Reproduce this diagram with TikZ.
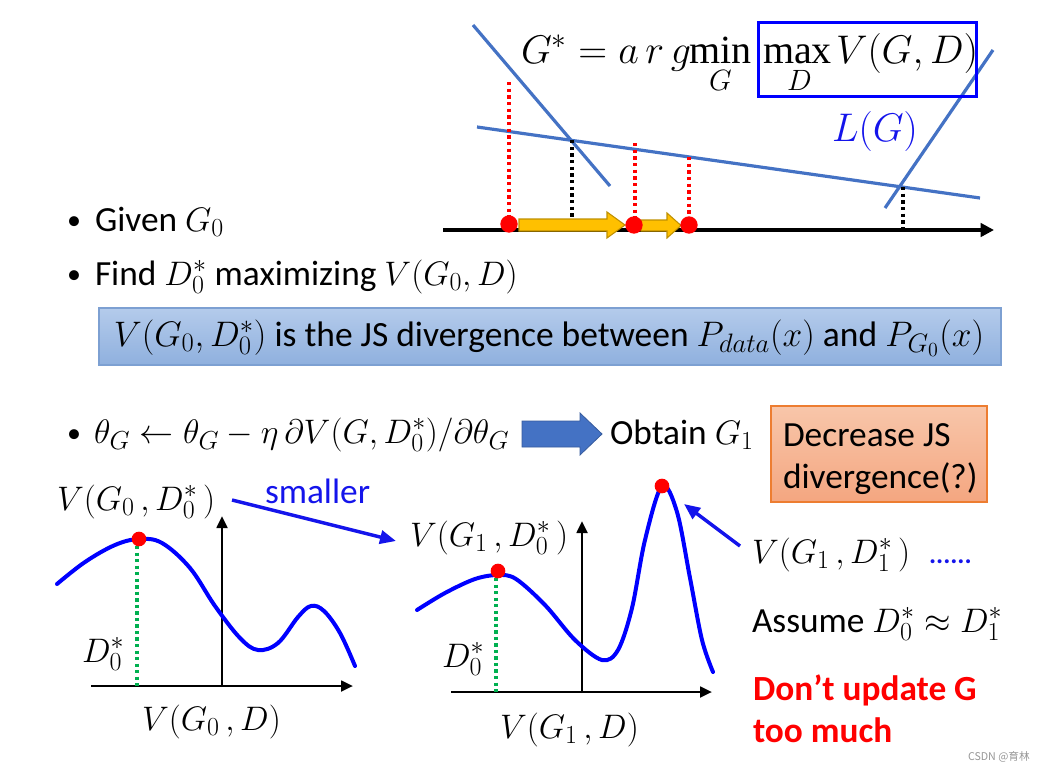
\RequirePackage{fix-cm}
\documentclass[tikz,border=0pt]{standalone}
\usepackage{fontspec}
\setmainfont{Carlito}
\newfontfamily\cjk{Noto Sans CJK SC}
\newfontfamily\opfont{Liberation Serif}
\DeclareMathSizes{26.5}{25.5}{19.5}{15}
\DeclareMathSizes{26.6}{26.6}{20}{15}
\DeclareMathSizes{30}{30}{22}{16}
\DeclareMathSizes{22}{22}{16}{12}
\usetikzlibrary{arrows.meta}
\definecolor{lineblue}{RGB}{68,114,196}
\definecolor{pureblue}{RGB}{0,0,255}
\definecolor{txtblue}{RGB}{20,20,235}
\definecolor{dotred}{RGB}{255,0,0}
\definecolor{goldfill}{RGB}{255,192,0}
\definecolor{goldedge}{RGB}{191,144,0}
\definecolor{boxtop}{RGB}{180,203,235}
\definecolor{boxbot}{RGB}{143,176,222}
\definecolor{boxedge}{RGB}{125,160,210}
\definecolor{saltop}{RGB}{248,198,170}
\definecolor{salbot}{RGB}{244,166,128}
\definecolor{saledge}{RGB}{237,125,49}
\definecolor{dotgreen}{RGB}{0,176,80}
\definecolor{wmgrey}{RGB}{150,150,150}
\begin{document}
\begin{tikzpicture}[x=0.75pt,y=-0.75pt,
  txt/.style={inner sep=0pt,outer sep=0pt,anchor=base west,font=\fontsize{26.5}{30}\selectfont},
  boxtxt/.style={inner sep=0pt,outer sep=0pt,anchor=base,font=\fontsize{26.6}{30}\selectfont},
  bullet/.style={inner sep=0pt,outer sep=0pt,anchor=base west,font=\fontsize{21}{24}\selectfont},
  bigtxt/.style={inner sep=0pt,outer sep=0pt,anchor=base west,font=\fontsize{30}{34}\selectfont},
  optxt/.style={inner sep=0pt,outer sep=0pt,anchor=base west,font=\opfont\fontsize{30}{34}\selectfont},
  limtxt/.style={inner sep=0pt,outer sep=0pt,anchor=base west,font=\fontsize{22}{26}\selectfont},
  redtxt/.style={txt,text=dotred,font=\fontsize{26.5}{30}\selectfont\bfseries},
  sline/.style={lineblue,line width=2.4pt},
  axisline/.style={black,line width=2pt,-{Triangle[length=9pt,width=8pt]}},
  curve/.style={pureblue,line width=3pt,line cap=round},
  reddots/.style={dotred,line width=2.8pt,dash pattern=on 2.6pt off 2.4pt},
  blackdots/.style={black,line width=2.8pt,dash pattern=on 2.6pt off 2.4pt},
  greendots/.style={dotgreen,line width=2.6pt,dash pattern=on 2.5pt off 2.4pt},
  dot/.style={circle,fill=dotred,inner sep=0pt,minimum size=13pt},
  smalldot/.style={circle,fill=dotred,inner sep=0pt,minimum size=11pt},
  goldarrow/.style={fill=goldfill,draw=goldedge,line width=0.8pt},
  bluearrow/.style={txtblue,line width=2.6pt,-{Triangle[length=12pt,width=10pt]}}]
\useasboundingbox (0,0) rectangle (1038,771);

% ---------- top graph ----------
\coordinate (la1) at (473,25);  \coordinate (la2) at (610,186);
\coordinate (lb1) at (477,127); \coordinate (lb2) at (980,198);
\coordinate (lc1) at (885,208); \coordinate (lc2) at (993,50);
\draw[sline] (la1) -- (la2);
\draw[sline] (lb1) -- (lb2);
\draw[sline] (lc1) -- (lc2);

\coordinate (ax0) at (443,230); \coordinate (ax1) at (994,230);
\draw[black,line width=3pt,-{Triangle[length=10pt,width=10pt]}] (ax0) -- (ax1);

\draw[reddots] (509,82) -- (509,222);
\draw[reddots] (635,143) -- (635,222);
\draw[reddots] (689,157) -- (689,222);
\draw[blackdots] (572,140) -- (572,218);
\draw[blackdots] (903,187) -- (903,228);

\draw[goldarrow] (519,219) -- (607,219) -- (607,212) -- (625,225) -- (607,238) -- (607,231) -- (519,231) -- cycle;
\draw[goldarrow] (641,220) -- (667,220) -- (667,213) -- (681,225.5) -- (667,238) -- (667,231) -- (641,231) -- cycle;

\node[dot] (p0) at (509,224) {};
\node[dot] (p1) at (634,225) {};
\node[dot] (p2) at (689,225) {};

% formula
\node[bigtxt] (fleft) at (521,63) {$G^{*} = a\,r\,g$};
\node[optxt] (fmin) at (689,63) {min};
\node[limtxt] (fminG) at (709,90) {$G$};
\node[optxt] (fmax) at (763,63) {max};
\node[limtxt] (fmaxD) at (787,90) {$D$};
\node[bigtxt] (fV) at (836,63) {$V(G,D)$};
\node[draw=pureblue,line width=2.3pt,inner sep=0pt,minimum width=164pt,minimum height=56pt] (maxbox) at (867.5,59.5) {};
\node[bigtxt,text=txtblue] (LG) at (832,141) {$L(G)$};

% ---------- bullets ----------
\node[bullet] (b1) at (67,229) {•};
\node[txt] (t1) at (95,231) {Given $G_0$};
\node[bullet] (b2) at (67,283) {•};
\node[txt] (t2) at (95,285) {Find $D_0^{*}$ maximizing $V(G_0,D)$};

\node[draw=boxedge,line width=0.8pt,top color=boxtop,bottom color=boxbot,inner sep=0pt,minimum width=676.5pt,minimum height=42.75pt] (jsbox) at (550,336.5) {};
\node[boxtxt] (jstxt) at (549,346) {$V(G_0,D_0^{*})$ is the JS divergence between $P_{data}(x)$ and $P_{G_0}(x)$};

\node[bullet] (b3) at (67,442) {•};
\node[txt] (t3) at (94,443) {$\theta_G \leftarrow \theta_G - \eta\,\partial V(G,D_0^{*})/\partial\theta_G$};
\draw[fill=lineblue,draw=lineblue!80!black,line width=0.6pt] (522,421) -- (580,421) -- (580,413) -- (602,434) -- (580,455) -- (580,447) -- (522,447) -- cycle;
\node[txt] (obtain) at (610,444) {Obtain $G_1$};

\node[draw=saledge,line width=0.8pt,top color=saltop,bottom color=salbot,inner sep=0pt,minimum width=162pt,minimum height=72pt] (decbox) at (879,454) {};
\node[txt] (dec1) at (783,446) {Decrease JS};
\node[txt] (dec2) at (783,488) {divergence(?)};

% ---------- left graph ----------
\node[txt] (v00) at (57,510) {$V(G_0\,,D_0^{*}\,)$};
\node[txt,text=txtblue] (smaller) at (265,503) {smaller};
\draw[axisline] (222,687) -- (222,516);
\draw[axisline] (91,686) -- (353,686);
\draw[greendots] (137,546) -- (137,686);
\draw[curve] plot[smooth,tension=0.6] coordinates {(57,584) (85,562) (115,545) (139,539) (162,543) (190,568) (215,606) (240,638) (258,650) (278,643) (298,617) (311,606) (324,611) (340,633) (355,666)};
\node[smalldot] (m0) at (139,539) {};
\node[txt] (dl) at (82,662) {$D_0^{*}$};
\node[txt] (xl) at (142,730) {$V(G_0\,,D)$};
\coordinate (sa0) at (232,500); \coordinate (sa1) at (396,541);
\draw[bluearrow] (sa0) -- (sa1);

% ---------- middle graph ----------
\node[txt] (v10) at (410,546) {$V(G_1\,,D_0^{*}\,)$};
\draw[axisline] (582,693) -- (582,521);
\draw[axisline] (451,692) -- (712,692);
\draw[greendots] (496,578) -- (496,692);
\draw[curve] plot[smooth,tension=0.55] coordinates {(417,610) (445,593) (475,579) (498,575) (516,579) (545,605) (575,640) (602,660) (618,650) (632,608) (645,540) (662,486) (677,512) (690,578) (702,640) (713,672)};
\node[smalldot] (m1) at (498,571) {};
\node[smalldot] (m2) at (662,486) {};
\node[txt] (dm) at (442,667) {$D_0^{*}$};
\node[txt] (xm) at (500,738) {$V(G_1\,,D)$};
\coordinate (ra0) at (740,546);
\draw[bluearrow] (ra0) -- (684,504);

% ---------- right texts ----------
\node[txt] (v11) at (752,563) {$V(G_1\,,D_1^{*}\,)$};
\node[txt,text=txtblue,font=\fontsize{20}{24}\selectfont\bfseries] (dots) at (929,563) {......};
\node[txt] (assume) at (752,632) {Assume $D_0^{*} \approx D_1^{*}$};
\node[redtxt] (dont1) at (753,700) {Don’t update G};
\node[redtxt] (dont2) at (753,742) {too much};
\node[inner sep=0pt,anchor=base east,text=wmgrey,font=\cjk\fontsize{8}{10}\selectfont] (wm) at (1030,760) {CSDN @育林};
\end{tikzpicture}
\end{document}
